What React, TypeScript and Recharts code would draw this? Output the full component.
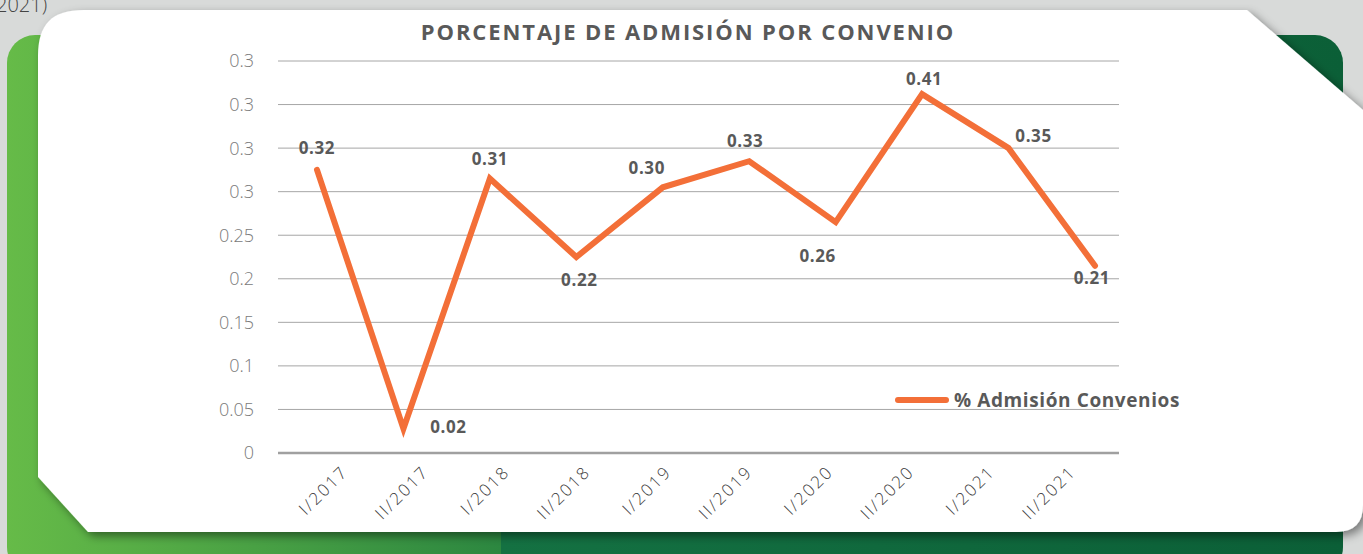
import React from "react";
import { LineChart, Line, XAxis, YAxis, CartesianGrid, LabelList } from "recharts";

const periods = ["I/2017", "II/2017", "I/2018", "II/2018", "I/2019", "II/2019", "I/2020", "II/2020", "I/2021", "II/2021"];
const admission = [0.325, 0.028, 0.315, 0.225, 0.305, 0.335, 0.265, 0.412, 0.35, 0.215];
const yTicks = [0, 0.05, 0.1, 0.15, 0.2, 0.25, 0.3, 0.35, 0.4, 0.45];
const yTickLabels = ["0", "0.05", "0.1", "0.15", "0.2", "0.25", "0.3", "0.3", "0.3", "0.3"];

const data = periods.map((period, i) => ({ period, value: admission[i] }));

const ORANGE = "#F36F38";
const TEXT = "#595959";
const FONT = "'Open Sans', sans-serif";

// hand-placed label offsets, like the original Excel chart
const labelShift = [
  [0, -22], [45, -2], [0, -20], [3, 22], [-16, -20],
  [-4, -21], [-18, 33], [2, -16], [25, -13], [-3, 12],
];

// data labels are truncated to 2 decimals
const fmt = (v: number) => (Math.floor(v * 100 + 1e-6) / 100).toFixed(2);

function DataLabel(props: any) {
  const { index, value } = props;
  const x = props.x ?? props.viewBox?.x;
  const y = props.y ?? props.viewBox?.y;
  const [dx, dy] = labelShift[index] || [0, -20];
  return (
    <text x={x + dx} y={y + dy} textAnchor="middle" dominantBaseline="central"
      fill={TEXT} fontFamily={FONT} fontWeight={700} fontSize={17} letterSpacing={0.6}>
      {fmt(value)}
    </text>
  );
}

function XTick({ x, y, payload }: any) {
  const ty = y + 12;
  return (
    <text x={x} y={ty} transform={`rotate(-45 ${x} ${ty})`} textAnchor="end"
      fill="#404040" fontFamily={FONT} fontWeight={300} fontSize={17} letterSpacing={2}>
      {payload.value}
    </text>
  );
}

function Backdrop() {
  return (
    <svg width={1363} height={554} style={{ position: "absolute", left: 0, top: 0 }}>
      <defs>
        <linearGradient id="green" x1="0" y1="0" x2="1" y2="0">
          <stop offset="0" stopColor="#66bb48" />
          <stop offset="0.37" stopColor="#2c8740" />
          <stop offset="0.37" stopColor="#147142" />
          <stop offset="1" stopColor="#0b5f37" />
        </linearGradient>
        <filter id="shadow" x="-5%" y="-5%" width="110%" height="115%">
          <feDropShadow dx="4" dy="4" stdDeviation="5" floodColor="#000" floodOpacity="0.45" />
        </filter>
      </defs>
      <rect width={1363} height={554} fill="#d8dad9" />
      <text x={-4} y={12} fontFamily={FONT} fontWeight={300} fontSize={20} fill="#444">2021)</text>
      <rect x={7} y={35} width={1336} height={540} rx={28} fill="url(#green)" />
      <path d="M 38 56 C 38 24 52 10 84 10 L 1247 10 L 1363 110 L 1363 505 Q 1363 532 1336 532 L 88 532 L 38 477 Z"
        fill="#fff" filter="url(#shadow)" />
    </svg>
  );
}

export default function App() {
  return (
    <div style={{ position: "absolute", left: 0, top: 0, width: 1363, height: 554, overflow: "hidden" }}>
      <Backdrop />
      <div style={{ position: "absolute", left: 0, top: 0 }}>
        <LineChart width={1363} height={554} data={data} margin={{ top: 61, right: 244, left: 178, bottom: 41 }}>
          <CartesianGrid vertical={false} stroke="#a6a6a6" strokeWidth={1} />
          <XAxis xAxisId="line" dataKey="period" hide padding={{ left: 39, right: 24 }} />
          <XAxis xAxisId="labels" dataKey="period" height={60} padding={{ left: 71, right: 42 }}
            axisLine={{ stroke: "#a0a0a0", strokeWidth: 2.5 }} tickLine={false} tick={<XTick />} interval={0} />
          <YAxis domain={[0, 0.45]} ticks={yTicks} width={100} axisLine={false} tickLine={false}
            tickMargin={18}
            tickFormatter={(v: number) => yTickLabels[yTicks.indexOf(v)] ?? String(v)}
            tick={{ fill: "#7a7a7a", fontFamily: FONT, fontWeight: 300, fontSize: 18 }} />
          <Line xAxisId="line" type="linear" dataKey="value" stroke={ORANGE} strokeWidth={6}
            dot={false} isAnimationActive={false} strokeLinecap="round">
            <LabelList dataKey="value" content={<DataLabel />} />
          </Line>
        </LineChart>
      </div>
      <svg width={1363} height={554} style={{ position: "absolute", left: 0, top: 0, pointerEvents: "none" }}>
        <text x={688} y={40} textAnchor="middle" fontFamily={FONT} fontWeight={700} fontSize={22}
          letterSpacing={1.9} fill={TEXT}>
          PORCENTAJE DE ADMISIÓN POR CONVENIO
        </text>
      </svg>
      <div style={{ position: "absolute", left: 895, top: 388, display: "flex", alignItems: "center" }}>
        <div style={{ width: 54, height: 6, borderRadius: 3, background: ORANGE, marginRight: 5 }} />
        <span style={{ fontFamily: FONT, fontWeight: 700, fontSize: 19, color: TEXT, letterSpacing: 0.6, lineHeight: "24px" }}>
          % Admisión Convenios
        </span>
      </div>
    </div>
  );
}
